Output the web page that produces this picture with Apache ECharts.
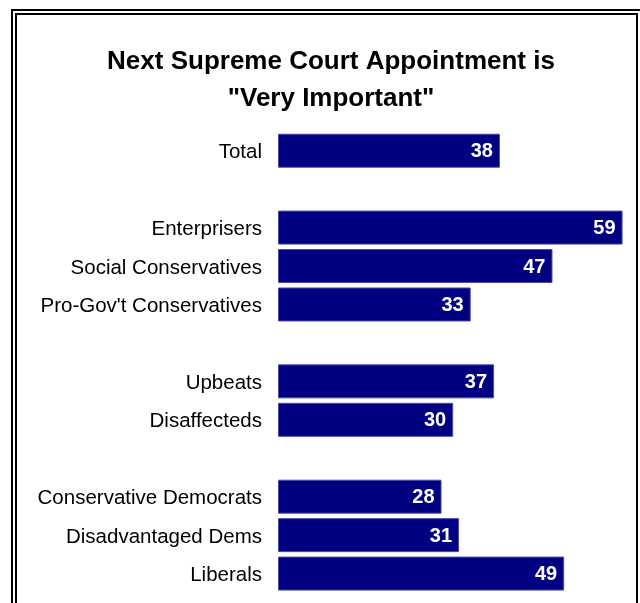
<!DOCTYPE html>
<html><head><meta charset="utf-8">
<script src="https://cdn.jsdelivr.net/npm/echarts@6/dist/echarts.min.js"></script>
<style>html,body{margin:0;padding:0;background:#fff}#c{width:640px;height:603px}</style>
</head><body><div id="c"></div>
<script>
const categories = ['Total', '', 'Enterprisers', 'Social Conservatives', "Pro-Gov't Conservatives", '', 'Upbeats', 'Disaffecteds', '', 'Conservative Democrats', 'Disadvantaged Dems', 'Liberals'];
const values = [38, null, 59, 47, 33, null, 37, 30, null, 28, 31, 49];
const titleLines = ['Next Supreme Court Appointment is', '"Very Important"'];

const chart = echarts.init(document.getElementById('c'), null, {renderer: 'canvas'});
chart.setOption({
  animation: false,
  title: {
    text: titleLines.join('\n'),
    left: 326, top: 38, textAlign: 'center',
    textStyle: {fontFamily: '"Liberation Sans", Arial', fontWeight: 'bold', fontSize: 26, color: '#000', lineHeight: 37}
  },
  grid: {left: 278, top: 131.5, width: 350.4, height: 461.3, containLabel: false},
  xAxis: {type: 'value', min: 0, max: 60, show: false},
  yAxis: {
    type: 'category', data: categories, inverse: true,
    axisLine: {show: false}, axisTick: {show: false}, splitLine: {show: false},
    axisLabel: {
      margin: 16, formatter: v => v ? '{a|' + v + '}' : '',
      rich: {a: {padding: [4, 0, 0, 0], color: '#000', fontFamily: '"Liberation Sans", Arial', fontSize: 20.5}}
    }
  },
  series: [{
    type: 'bar', data: values, barWidth: 34,
    itemStyle: {color: '#000080', borderColor: '#4a4aa8', borderWidth: 1},
    label: {show: true, position: 'insideRight', offset: [-2, 1], color: '#fff', fontFamily: '"Liberation Sans", Arial', fontWeight: 'bold', fontSize: 20}
  }],
  graphic: [
    {type: 'rect', shape: {x: 12, y: 10, width: 660, height: 700}, style: {fill: 'none', stroke: '#000', lineWidth: 2}, silent: true},
    {type: 'rect', shape: {x: 16, y: 14, width: 621, height: 700}, style: {fill: 'none', stroke: '#000', lineWidth: 2}, silent: true}
  ]
});
</script></body></html>
